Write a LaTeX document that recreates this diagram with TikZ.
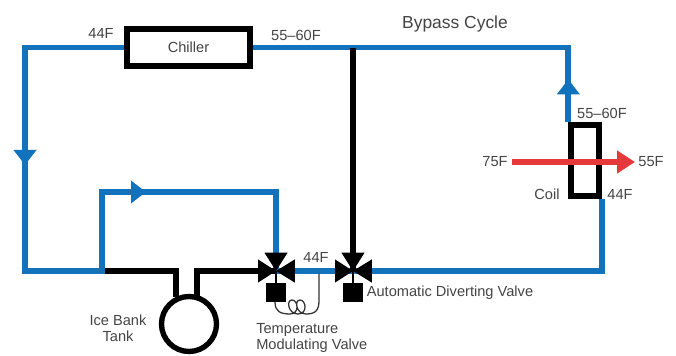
\documentclass[tikz,border=0pt]{standalone}
\usepackage{fontspec}
\setmainfont{Liberation Sans}
\usepackage{xcolor}
\usetikzlibrary{arrows.meta}
\definecolor{pipeblue}{HTML}{1272BC}
\definecolor{airred}{HTML}{E5393C}
\definecolor{labelgray}{HTML}{444444}
\tikzset{
  pipe/.style={line width=4.1pt, draw=pipeblue, line cap=butt, line join=miter},
  bankpipe/.style={line width=3.9pt, draw=black, line cap=butt, line join=miter},
  airflow/.style={line width=3.8pt, draw=airred, -{Triangle[length=0.45cm,width=0.55cm]}},
  flowtip/.style={-{Triangle[length=0.375cm,width=0.55cm]}},
  unitbox/.style={draw=black, line width=3.8pt, fill=white, inner sep=0pt},
  sensor/.style={line width=0.9pt, draw=black!80},
  lbl/.style={text=labelgray, font=\fontsize{10.4}{11.6}\selectfont, inner sep=0pt},
  valve/.pic={
    \fill[black] (0,0) -- (-0.29,0.46) -- (0.29,0.46) -- cycle;
    \fill[black] (0,0) -- (-0.45,0.29) -- (-0.45,-0.29) -- cycle;
    \fill[black] (0,0) -- (0.47,0.29) -- (0.47,-0.29) -- cycle;
    \draw[black, line width=1.4pt] (0,0) -- (0,-0.35);
    \fill[black] (-0.24,-0.3) rectangle (0.24,-0.77);
  },
}
\begin{document}
\begin{tikzpicture}
\useasboundingbox (0,0) rectangle (16.9,8.9);
% equipment
\node[unitbox, minimum width=3.075cm, minimum height=0.925cm] (chiller) at (4.713,7.712) {};
\node[unitbox, minimum width=0.7cm, minimum height=1.775cm] (coil) at (14.625,4.888) {};
\node[draw=black, line width=3.8pt, circle, minimum size=1.375cm, inner sep=0pt] (tank) at (4.725,0.8) {};
% pipe corners
\coordinate (valveT) at (6.9,2.125);
\coordinate (valveA) at (8.825,2.125);
\coordinate (corner) at (0.625,7.712);
\coordinate (split) at (2.55,2.125);
\coordinate (tee) at (8.825,7.712);
\coordinate (tankL) at (4.4,2.125);
\coordinate (tankR) at (4.925,2.125);
\coordinate (leftTip) at (0.625,4.775);
\coordinate (loopTip) at (3.65,4.1);
\coordinate (airIn) at (12.8,4.85);
\coordinate (airOut) at (15.875,4.85);
% blue loop
\draw[pipe] (chiller.east) -- (coil.north west |- chiller.east) -- (coil.north west);
\draw[pipe, flowtip] (coil.north west) -- ++(0,1.075);
\draw[pipe] (chiller.west) -- (corner) -- (corner |- split) -- ([xshift=2pt]split);
\draw[pipe, flowtip] (corner) -- (leftTip);
\draw[pipe] (split) -- (split |- loopTip) -- (valveT |- loopTip) -- (valveT);
\draw[pipe, flowtip] (split |- loopTip) -- (loopTip);
\draw[pipe] (valveT) -- (valveA);
\draw[pipe] (valveA) -- (coil.south east |- valveA) -- (coil.south east);
% black pipes
\draw[bankpipe] ([xshift=2pt]split) -- (tankL) -- ([yshift=-2pt]tankL |- tank.north);
\draw[bankpipe] ([yshift=-2pt]tankR |- tank.north) -- (tankR) -- (valveT);
\draw[bankpipe] (tee) -- (valveA);
% air through the coil
\draw[airflow] (airIn) -- (airOut);
% valves and sensor bulb
\pic at (valveT) {valve};
\pic at (valveA) {valve};
\draw[sensor] (6.875,1.35) .. controls (6.875,1.12) and (7.0,1.05) .. (7.25,1.05)
  .. controls (7.5,1.05) and (7.45,1.4) .. (7.3,1.4)
  .. controls (7.15,1.4) and (7.2,1.05) .. (7.45,1.05)
  .. controls (7.7,1.05) and (7.65,1.4) .. (7.5,1.4)
  .. controls (7.35,1.4) and (7.4,1.05) .. (7.65,1.05)
  .. controls (7.9,1.05) and (7.975,1.15) .. (7.975,1.4) -- (7.975,2.05);
% labels
\node[lbl] (chillerlbl) at (chiller) {Chiller};
\node[lbl, font=\fontsize{12.4}{14}\selectfont] (title) at (11.375,8.3) {Bypass Cycle};
\node[lbl] (retTop) at (2.525,8.075) {44F};
\node[lbl] (supTop) at (7.4,8.025) {55–60F};
\node[lbl] (supCoil) at (15.05,6.075) {55–60F};
\node[lbl] (airInT) at (12.375,4.85) {75F};
\node[lbl] (airOutT) at (16.275,4.85) {55F};
\node[lbl] (coillbl) at (13.675,4.05) {Coil};
\node[lbl] (retCoil) at (15.5,4.05) {44F};
\node[lbl] (mixT) at (7.9,2.475) {44F};
\node[lbl] (divlbl) at (11.25,1.575) {Automatic Diverting Valve};
\node[lbl, anchor=west, align=left] (modlbl) at (6.4,0.45) {Temperature\\Modulating Valve};
\node[lbl, align=center] (tanklbl) at (2.95,0.7) {Ice Bank\\Tank};
\end{tikzpicture}
\end{document}
